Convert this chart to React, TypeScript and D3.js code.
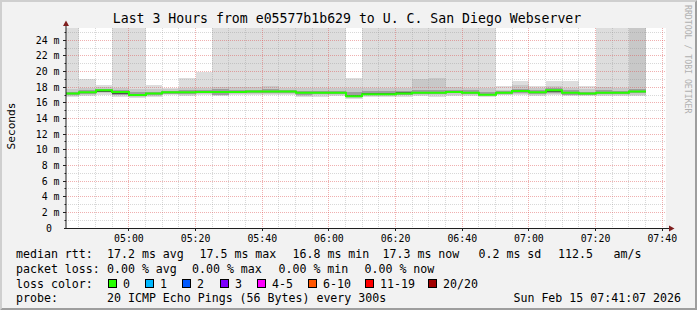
import React from "react";
import * as d3 from "d3";

const W = 697;
const H = 310;

const startTime = "04:41:07";
const endTime = "07:41:07";

// end time of each 5-minute step (each step covers the 300 s before it)
const stepEnds = [
  "04:45", "04:50", "04:55", "05:00", "05:05", "05:10", "05:15", "05:20", "05:25", "05:30",
  "05:35", "05:40", "05:45", "05:50", "05:55", "06:00", "06:05", "06:10", "06:15", "06:20",
  "06:25", "06:30", "06:35", "06:40", "06:45", "06:50", "06:55", "07:00", "07:05", "07:10",
  "07:15", "07:20", "07:25", "07:30", "07:35",
];

// median round trip time per step (ms)
const medianRtt = [
  17.2, 17.35, 17.6, 17.4, 17.0, 17.2, 17.35, 17.35, 17.4, 17.4,
  17.4, 17.45, 17.45, 17.45, 17.3, 17.3, 17.3, 16.85, 17.1, 17.1,
  17.2, 17.3, 17.3, 17.4, 17.3, 17.05, 17.3, 17.5, 17.35, 17.6,
  17.3, 17.2, 17.3, 17.3, 17.45,
];

// sorted ping percentiles (ms) for the smoke
const pingMin = [
  16.75, 16.9, 17.0, 16.8, 16.65, 16.8, 16.95, 16.9, 16.95, 16.85,
  16.95, 17.0, 16.95, 17.0, 16.7, 16.8, 16.85, 16.55, 16.7, 16.7,
  16.8, 16.85, 16.8, 16.9, 16.85, 16.75, 16.95, 17.0, 16.9, 16.95,
  16.85, 16.85, 16.85, 16.9, 16.9,
];
const pingP2 = [
  16.9, 17.05, 17.2, 16.95, 16.75, 16.92, 17.08, 17.05, 17.1, 16.95,
  17.1, 17.15, 17.1, 17.15, 16.85, 16.95, 17.0, 16.65, 16.85, 16.85,
  16.95, 17.0, 16.95, 17.05, 17.0, 16.85, 17.05, 17.15, 17.05, 17.1,
  16.95, 16.95, 16.97, 17.02, 17.05,
];
const pingP4 = [
  17.02, 17.17, 17.35, 17.05, 16.85, 17.02, 17.18, 17.17, 17.22, 17.05,
  17.22, 17.27, 17.25, 17.27, 17.0, 17.08, 17.12, 16.75, 16.95, 16.97,
  17.05, 17.12, 17.1, 17.2, 17.12, 16.95, 17.15, 17.27, 17.17, 17.25,
  17.05, 17.05, 17.1, 17.14, 17.2,
];
const pingP8 = [
  17.14, 17.29, 17.45, 17.15, 16.88, 17.12, 17.29, 17.29, 17.34, 17.3,
  17.34, 17.39, 17.39, 17.39, 17.2, 17.2, 17.24, 16.82, 17.04, 17.04,
  17.14, 17.24, 17.2, 17.34, 17.22, 17.0, 17.24, 17.42, 17.29, 17.45,
  17.2, 17.14, 17.22, 17.24, 17.35,
];
const pingP13 = [
  17.28, 17.43, 17.66, 17.45, 17.05, 17.28, 17.42, 17.43, 17.48, 17.5,
  17.48, 17.53, 17.55, 17.53, 17.38, 17.38, 17.38, 16.98, 17.2, 17.22,
  17.35, 17.4, 17.42, 17.5, 17.42, 17.15, 17.36, 17.58, 17.43, 17.68,
  17.4, 17.28, 17.45, 17.38, 17.52,
];
const pingP17 = [
  17.45, 17.6, 17.8, 17.62, 17.35, 17.45, 17.55, 17.58, 17.65, 17.75,
  17.7, 17.7, 17.75, 17.7, 17.55, 17.55, 17.55, 17.35, 17.5, 17.5,
  17.55, 17.65, 17.7, 17.7, 17.6, 17.45, 17.5, 17.8, 17.6, 17.85,
  17.6, 17.45, 17.65, 17.55, 17.75,
];
const pingP19 = [
  17.75, 17.9, 18.05, 17.95, 17.75, 17.8, 17.75, 17.85, 17.95, 18.0,
  18.05, 18.0, 18.2, 17.95, 17.85, 17.9, 17.85, 17.85, 17.95, 17.95,
  17.9, 19.0, 19.2, 18.0, 17.95, 17.85, 17.7, 18.3, 17.9, 18.2,
  17.95, 17.75, 18.0, 17.85, 27.4,
];
const pingMax = [
  31.8, 19.1, 18.25, 28.6, 34.2, 18.3, 17.9, 19.2, 19.95, 29.7,
  27.3, 33.1, 30.4, 28.9, 26.8, 31.5, 29.2, 19.2, 32.7, 27.9,
  30.1, 35.6, 28.3, 26.9, 31.2, 29.8, 18.2, 18.8, 18.2, 18.75,
  18.75, 18.2, 27.7, 30.6, 38.4,
];

const yTicks = [0, 2, 4, 6, 8, 10, 12, 14, 16, 18, 20, 22, 24];
const yTickLabels = ["0", "2 m", "4 m", "6 m", "8 m", "10 m", "12 m", "14 m", "16 m", "18 m", "20 m", "22 m", "24 m"];
const xTickLabels = ["05:00", "05:20", "05:40", "06:00", "06:20", "06:40", "07:00", "07:20", "07:40"];

const lossLabels = ["0", "1", "2", "3", "4-5", "6-10", "11-19", "20/20"];
const lossColors = ["#26ff00", "#00b8ff", "#0059ff", "#7e00ff", "#ff00ff", "#ff5500", "#ff0000", "#a10000"];

const FONT = "'DejaVu Sans Mono', monospace";

const toSec = (s: string) => {
  const p = s.split(":").map(Number);
  return p[0] * 3600 + p[1] * 60 + (p[2] || 0);
};

export default function App() {
  const t0 = toSec(startTime);
  const t1 = toSec(endTime);
  const PX0 = 66, PX1 = 666, PY0 = 228, PY1 = 28;
  const x = d3.scaleLinear().domain([t0, t1]).range([PX0, PX1]);
  const y = d3.scaleLinear().domain([0, 25.57]).range([PY0, PY1]);

  const cols = stepEnds.map((e, i) => {
    const te = toSec(e);
    return { i, x0: Math.round(x(te - 300)), x1: Math.round(x(te)) };
  });

  const layers = [
    { lo: pingMin, hi: pingMax, color: "#dddddd" },
    { lo: pingP2, hi: pingP19, color: "#c8c8c8" },
    { lo: pingP4, hi: pingP17, color: "#9e9e9e" },
    { lo: pingP8, hi: pingP13, color: "#505050" },
  ];

  // grid
  const minorT: number[] = [];
  const majorT: number[] = [];
  const first5 = Math.ceil(t0 / 300) * 300;
  for (let t = first5; t <= t1; t += 300) {
    if (t % 1200 === 0) majorT.push(t);
    else minorT.push(t);
  }
  const minorV = d3.range(1, 26).filter((v) => v % 2 === 1);
  const majorV = d3.range(2, 26, 2);

  const medPts: [number, number][] = [];
  cols.forEach((c) => {
    medPts.push([c.x0, y(medianRtt[c.i])]);
    medPts.push([c.x1, y(medianRtt[c.i])]);
  });
  const medPath = d3.line()(medPts) || "";

  const crisp = (v: number) => Math.round(v) + 0.5;

  const legendX = 16;
  const row = [258, 273, 288, 302];
  const fs = 11.6;

  const boxXs = [108, 145, 182, 220, 257, 308, 365, 428];

  return (
    <svg
      width={W}
      height={H}
      style={{ position: "absolute", left: 0, top: 0, display: "block" }}
      fontFamily={FONT}
    >
      <defs>
        <clipPath id="canvasClip">
          <rect x={PX0} y={PY1} width={PX1 - PX0} height={PY0 - PY1} />
        </clipPath>
      </defs>
      <rect x={0} y={0} width={W} height={H} fill="#f2f2f2" />
      <polygon points={`0,0 ${W},0 ${W - 2},2 2,2 2,${H - 2} 0,${H}`} fill="#cfcfcf" />
      <polygon points={`${W},${H} ${W},0 ${W - 2},2 ${W - 2},${H - 2} 2,${H - 2} 0,${H}`} fill="#9e9e9e" />

      <rect x={PX0} y={PY1} width={PX1 - PX0} height={PY0 - PY1} fill="#ffffff" />

      <g clipPath="url(#canvasClip)">
        {layers.map((L, li) => (
          <g key={li}>
            {cols.map((c) => {
              const top = Math.round(y(L.hi[c.i]));
              const bot = Math.round(y(L.lo[c.i]));
              return (
                <rect
                  key={c.i}
                  x={c.x0}
                  y={top}
                  width={c.x1 - c.x0}
                  height={Math.max(0, bot - top)}
                  fill={L.color}
                />
              );
            })}
          </g>
        ))}
      </g>

      {/* grid */}
      <g strokeDasharray="1,1" strokeWidth={1}>
        {minorV.map((v) => (
          <line key={"mh" + v} x1={PX0} x2={PX1} y1={crisp(y(v) - 0.5)} y2={crisp(y(v) - 0.5)} stroke="#8f8f8f" strokeOpacity={0.35} />
        ))}
        {minorT.map((t) => (
          <line key={"mv" + t} x1={crisp(x(t) - 0.5)} x2={crisp(x(t) - 0.5)} y1={PY1} y2={PY0} stroke="#8f8f8f" strokeOpacity={0.35} />
        ))}
        {majorV.map((v) => (
          <line key={"Mh" + v} x1={PX0} x2={PX1} y1={crisp(y(v) - 0.5)} y2={crisp(y(v) - 0.5)} stroke="#de4f4f" strokeOpacity={0.45} />
        ))}
        {majorT.map((t) => (
          <line key={"Mv" + t} x1={crisp(x(t) - 0.5)} x2={crisp(x(t) - 0.5)} y1={PY1} y2={PY0} stroke="#de4f4f" strokeOpacity={0.45} />
        ))}
      </g>

      {/* median line */}
      <g clipPath="url(#canvasClip)">
        <path d={medPath} fill="none" stroke="#26ff00" strokeWidth={2} />
      </g>

      {/* axes */}
      <g stroke="#1f1f1f" strokeWidth={1}>
        <line x1={66} x2={66} y1={228} y2={24} />
        <line x1={64} x2={670} y1={228.5} y2={228.5} />
        {majorV.map((v) => (
          <line key={"yt" + v} x1={63} x2={66} y1={crisp(y(v) - 0.5)} y2={crisp(y(v) - 0.5)} />
        ))}
        {minorV.map((v) => (
          <line key={"ytm" + v} x1={64.5} x2={66} y1={crisp(y(v) - 0.5)} y2={crisp(y(v) - 0.5)} />
        ))}
        {majorT.map((t) => (
          <line key={"xt" + t} x1={crisp(x(t) - 0.5)} x2={crisp(x(t) - 0.5)} y1={228} y2={231} />
        ))}
      </g>
      <polygon points="63,26 66,20.5 69,26" fill="#7f1f1f" />
      <polygon points="669,225.5 674.5,228.5 669,231.5" fill="#7f1f1f" />

      {/* tick labels */}
      <g fontSize={9.9} fill="#000">
        {yTicks.map((v, i) => (
          <text
            key={"yl" + v}
            x={v === 0 ? 49 : 59.5}
            y={y(v) + 3.5}
            textAnchor={v === 0 ? "middle" : "end"}
          >
            {yTickLabels[i]}
          </text>
        ))}
        {xTickLabels.map((l) => (
          <text key={"xl" + l} x={x(toSec(l))} y={242} textAnchor="middle">
            {l}
          </text>
        ))}
      </g>

      {/* title */}
      <text x={347} y={23} textAnchor="middle" fontSize={13.2} fill="#000">
        Last 3 Hours from e05577b1b629 to U. C. San Diego Webserver
      </text>

      {/* y axis title */}
      <text transform="translate(14.5,126) rotate(-90)" textAnchor="middle" fontSize={11.2} fill="#000">
        Seconds
      </text>

      {/* watermark */}
      <text transform="translate(684.5,5) rotate(90)" fontSize={8.2} fill="#b0b0b0">
        RRDTOOL / TOBI OETIKER
      </text>

      {/* legend */}
      <g fontSize={fs} fill="#000">
        <text x={legendX} y={row[0]}>median rtt:</text>
        <text x={107} y={row[0]}>17.2 ms avg</text>
        <text x={199.5} y={row[0]}>17.5 ms max</text>
        <text x={292.5} y={row[0]}>16.8 ms min</text>
        <text x={382.5} y={row[0]}>17.3 ms now</text>
        <text x={478.5} y={row[0]}>0.2 ms sd</text>
        <text x={558} y={row[0]}>112.5</text>
        <text x={613.5} y={row[0]}>am/s</text>

        <text x={legendX} y={row[1]}>packet loss:</text>
        <text x={107} y={row[1]}>0.00 % avg</text>
        <text x={192} y={row[1]}>0.00 % max</text>
        <text x={278.5} y={row[1]}>0.00 % min</text>
        <text x={364.5} y={row[1]}>0.00 % now</text>

        <text x={legendX} y={row[2]}>loss color:</text>
        {lossLabels.map((l, i) => (
          <g key={"lc" + l}>
            <rect x={boxXs[i] + 0.5} y={row[2] - 8.5} width={8} height={8} fill={lossColors[i]} stroke="#000" strokeWidth={1} />
            <text x={boxXs[i] + 15} y={row[2]}>{l}</text>
          </g>
        ))}

        <text x={legendX} y={row[3]}>probe:</text>
        <text x={107} y={row[3]}>20 ICMP Echo Pings (56 Bytes) every 300s</text>
        <text x={681} y={row[3]} textAnchor="end">Sun Feb 15 07:41:07 2026</text>
      </g>
    </svg>
  );
}
